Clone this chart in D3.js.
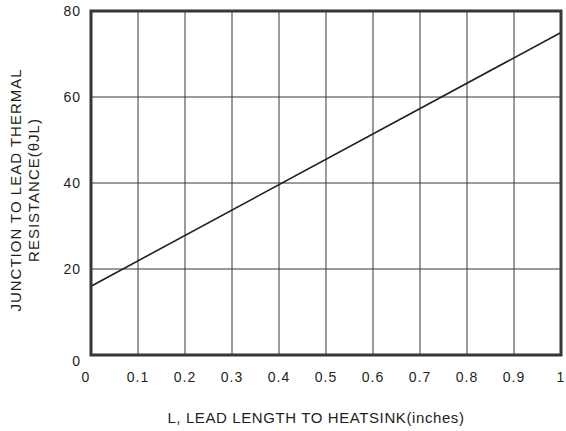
<!DOCTYPE html>
<meta charset="utf-8">
<style>
    body { margin: 0; background: #fff; }
    text { font-family: "Liberation Sans", Arial, sans-serif; fill: #231f20; }
</style>
<body>
    <script src="https://d3js.org/d3.v7.min.js"></script>
    <svg width="566" height="431"></svg>
    <script>
        // values
        var xTicks = [0, 0.1, 0.2, 0.3, 0.4, 0.5, 0.6, 0.7, 0.8, 0.9, 1];
        var yTicks = [0, 20, 40, 60, 80];
        var leadLength = [0, 1];
        var resistance = [16, 75];

        var svg = d3.select("svg"),
            pl = 91, pr = 561, pt = 11, pb = 355;

        var x = d3.scaleLinear().domain([0, 1]).range([pl, pr]),
            y = d3.scaleLinear().domain([0, 80]).range([pb, pt]);

        // grid
        svg.append("g").selectAll("line")
            .data(xTicks.slice(1, -1))
            .enter().append("line")
            .attr("x1", d => x(d)).attr("x2", d => x(d))
            .attr("y1", pt).attr("y2", pb)
            .attr("stroke", "#3a3536").attr("stroke-width", 1);

        svg.append("g").selectAll("line")
            .data(yTicks.slice(1, -1))
            .enter().append("line")
            .attr("x1", pl).attr("x2", pr)
            .attr("y1", d => y(d)).attr("y2", d => y(d))
            .attr("stroke", "#3a3536").attr("stroke-width", 1);

        // curve
        var pts = leadLength.map((d, i) => [d, resistance[i]]);
        svg.append("path")
            .datum(pts)
            .attr("fill", "none")
            .attr("stroke", "#231f20")
            .attr("stroke-width", 1.6)
            .attr("d", d3.line().x(d => x(d[0])).y(d => y(d[1])));

        // frame
        svg.append("rect")
            .attr("x", pl).attr("y", pt)
            .attr("width", pr - pl).attr("height", pb - pt)
            .attr("fill", "none")
            .attr("stroke", "#3a3536").attr("stroke-width", 3);

        // tick labels
        svg.append("g").selectAll("text")
            .data(xTicks)
            .enter().append("text")
            .attr("x", d => x(d) + (d === 0 ? -5 : 0))
            .attr("y", pb + 27)
            .attr("text-anchor", "middle")
            .style("font-size", "14px")
            .style("letter-spacing", "1px")
            .text(d => d);

        svg.append("g").selectAll("text")
            .data(yTicks)
            .enter().append("text")
            .attr("x", pl - 10)
            .attr("y", d => y(d) + 5 + (d === 0 ? 6 : 0))
            .attr("text-anchor", "end")
            .style("font-size", "14px")
            .style("letter-spacing", "1px")
            .text(d => d);

        // axis titles
        svg.append("text")
            .attr("x", 316).attr("y", 423)
            .attr("text-anchor", "middle")
            .style("font-size", "15px")
            .style("letter-spacing", "0.6px")
            .text("L, LEAD LENGTH TO HEATSINK(inches)");

        var yl = svg.append("text")
            .attr("transform", "translate(21,190) rotate(-90)")
            .attr("text-anchor", "middle")
            .style("font-size", "15px")
            .style("letter-spacing", "1px");
        yl.append("tspan").attr("x", 0).attr("dy", 0).text("JUNCTION TO LEAD THERMAL");
        yl.append("tspan").attr("x", 0).attr("dy", 18).text("RESISTANCE(θJL)");
    </script>
</body>
